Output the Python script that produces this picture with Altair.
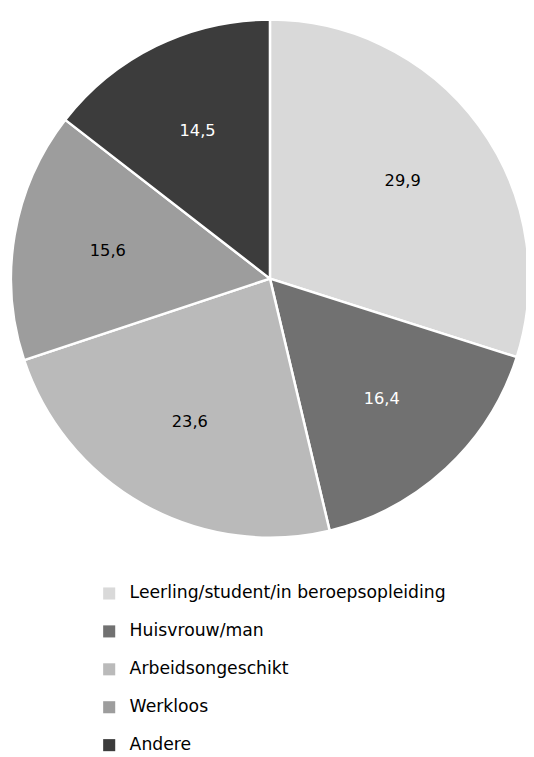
import altair as alt
import pandas as pd

categories = ["Leerling/student/in beroepsopleiding", "Huisvrouw/man", "Arbeidsongeschikt", "Werkloos", "Andere"]
values = [29.9, 16.4, 23.6, 15.6, 14.5]
labels = ["29,9", "16,4", "23,6", "15,6", "14,5"]
colors = ["#d9d9d9", "#717171", "#bababa", "#9d9d9d", "#3c3c3c"]
label_colors = ["#000000", "#ffffff", "#000000", "#000000", "#ffffff"]

df = pd.DataFrame({
    "cat": categories,
    "val": values,
    "lab": labels,
    "idx": list(range(len(categories))),
    "tc": label_colors,
})

FONT = "DejaVu Sans"

base = alt.Chart(df).encode(
    theta=alt.Theta("val:Q", stack=True),
    order=alt.Order("idx:Q", sort="ascending"),
    x=alt.value(266),
    y=alt.value(269),
)

arcs = base.mark_arc(outerRadius=263, stroke="white", strokeWidth=2.5).encode(
    color=alt.Color(
        "cat:N",
        scale=alt.Scale(domain=categories, range=colors),
        sort=categories,
        legend=alt.Legend(
            title=None,
            orient="none",
            legendX=94,
            legendY=580,
            symbolType="square",
            symbolSize=150,
            symbolStrokeWidth=0,
            labelFont=FONT,
            labelFontSize=17.5,
            labelColor="#000000",
            labelOffset=12,
            rowPadding=19.5,
            padding=0,
            labelLimit=500,
        ),
    )
)

text = base.mark_text(radius=167, font=FONT, fontSize=16.5).encode(
    text="lab:N",
    color=alt.Color("tc:N", scale=None),
)

chart = (arcs + text).properties(
    width=526,
    height=749,
    padding=0,
    autosize=alt.AutoSizeParams(type="none"),
).configure_view(stroke=None)

chart.save("out.html", embed_options={"renderer": "svg", "actions": False})
